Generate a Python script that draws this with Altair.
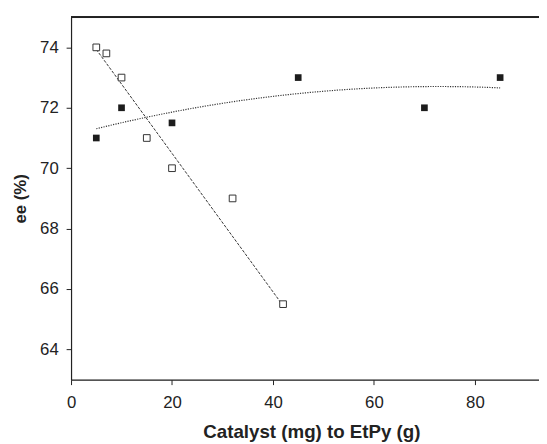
import altair as alt
import pandas as pd

# open squares series
open_x = [5, 7, 10, 15, 20, 32, 42]
open_y = [74.0, 73.8, 73.0, 71.0, 70.0, 69.0, 65.5]
# filled squares series
fill_x = [5, 10, 20, 45, 70, 85]
fill_y = [71.0, 72.0, 71.5, 73.0, 72.0, 73.0]
# straight trend line through the open squares (end values)
trend_x = [5, 42]
trend_y = [73.93, 65.45]

x_ticks = [0, 20, 40, 60, 80]
y_ticks = [64, 66, 68, 70, 72, 74]

df_open = pd.DataFrame({"x": open_x, "y": open_y})
df_fill = pd.DataFrame({"x": fill_x, "y": fill_y})
df_trend = pd.DataFrame({"x": trend_x, "y": trend_y})

FONT = "Liberation Sans"
INK = "#222222"
W, H = 475, 368

xscale = alt.Scale(domain=[0, 92.7], nice=False, zero=False)
yscale = alt.Scale(domain=[63, 75], nice=False, zero=False)

xaxis = alt.Axis(values=x_ticks, title="Catalyst (mg) to EtPy (g)", grid=False, labelFlush=False,
                 labelFont=FONT, labelFontSize=17, labelColor=INK, labelPadding=10,
                 tickSize=5, tickColor=INK, domainColor=INK, domainWidth=1.2,
                 titleFont=FONT, titleFontSize=19, titleFontWeight="bold", titleColor=INK,
                 titlePadding=13, titleX=244, titleAnchor="middle")
yaxis = alt.Axis(values=y_ticks, title="ee (%)", grid=False, labelFlush=False,
                 labelFont=FONT, labelFontSize=17, labelColor=INK, labelPadding=8,
                 tickSize=5, tickColor=INK, domainColor=INK, domainWidth=1.2,
                 titleFont=FONT, titleFontSize=17, titleFontWeight="bold", titleColor=INK,
                 titlePadding=10)

X = alt.X("x:Q", scale=xscale, axis=xaxis)
Y = alt.Y("y:Q", scale=yscale, axis=yaxis)

pts_open = alt.Chart(df_open).mark_square(size=46, filled=True, fill="white",
                                          stroke="#333333", strokeWidth=1, opacity=1).encode(x=X, y=Y)
pts_fill = alt.Chart(df_fill).mark_square(size=46, filled=True, color="#1c1c1c", opacity=1).encode(x=X, y=Y)
line_open = alt.Chart(df_trend).mark_line(
    color="#333333", strokeWidth=1, strokeDash=[3, 1.5]).encode(x=X, y=Y)
line_fill = alt.Chart(df_fill).transform_regression("x", "y", method="poly", order=2).mark_line(
    color="#333333", strokeWidth=1.2, strokeDash=[1.2, 1.3]).encode(x=X, y=Y)
# top frame line of the plot area
top_frame = alt.Chart(df_fill).mark_rule(color=INK, strokeWidth=1.2).encode(
    x=alt.value(0), x2=alt.value(W), y=alt.value(0))

chart = alt.layer(top_frame, line_fill, line_open, pts_open, pts_fill).properties(
    width=W, height=H,
    autosize=alt.AutoSizeParams(type="none"),
    padding={"left": 64, "top": 6, "right": 0, "bottom": 62},
).configure_view(stroke=None).configure(background="white")

chart.save("out.html", embed_options={"renderer": "svg", "actions": False})
